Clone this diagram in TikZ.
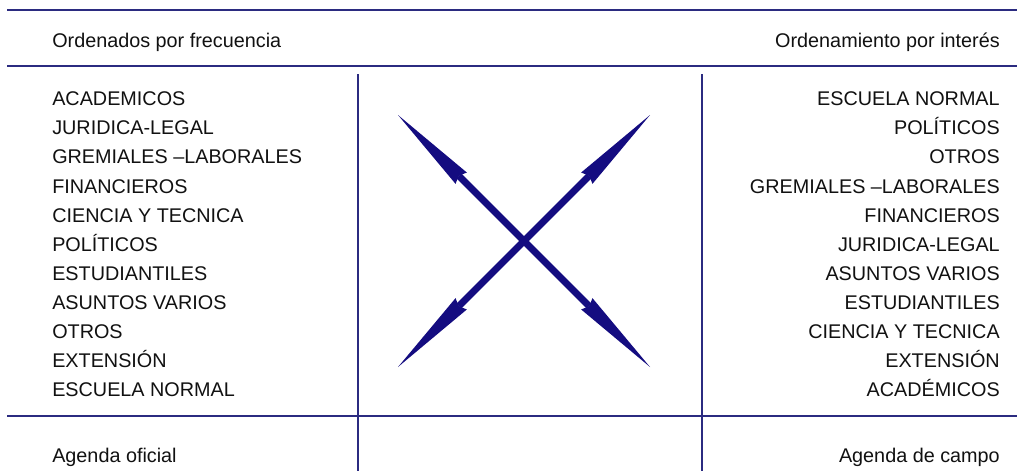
\documentclass[tikz,border=0pt]{standalone}
\usepackage{fontspec}
\setmainfont{Liberation Sans}
\usetikzlibrary{arrows.meta}
\definecolor{ink}{HTML}{111111}
\definecolor{rule}{HTML}{2B2B80}
\definecolor{cross}{HTML}{140C80}
\newcommand{\RowY}{105.7}
\newcommand{\RowH}{29.1}
\newcommand{\LeftX}{52}
\newcommand{\RightX}{1000}

\begin{document}
\begin{tikzpicture}[x=0.75pt, y=-0.75pt, ink,
  font=\fontsize{14.85}{17}\selectfont,
  item/.style={inner sep=0pt},
  ruleline/.style={rule, line width=1.1pt},
  colline/.style={rule, line width=0.8pt},
  crossarrow/.style={cross, line width=5.2pt,
    {Stealth[length=67pt, width=12pt, inset=2.5pt, line width=0pt]}-{Stealth[length=67pt, width=12pt, inset=2.5pt, line width=0pt]}}]

\useasboundingbox (0,0) rectangle (1017,471);

% --- Rules: header band, footer band and the two column lines --------------------
\draw[ruleline] (7,10) -- (1017,10);
\draw[ruleline] (7,66) -- (1017,66);
\draw[ruleline] (7,416) -- (1017,416);
\draw[colline] (358,74) -- (358,471);
\draw[colline] (702,74) -- (702,471);

% --- Headers and footers ---------------------------------------------------------
\node[item, anchor=base west] (hdrL) at (\LeftX, 47) {Ordenados por frecuencia};
\node[item, anchor=base east] (hdrR) at (\RightX, 47) {Ordenamiento por interés};
\node[item, anchor=base west] (ftL) at (\LeftX, 462) {Agenda oficial};
\node[item, anchor=base east] (ftR) at (\RightX, 462) {Agenda de campo};

% --- Left list: by frequency -------------------------------------------------------
\foreach \i/\name in {0/ACADEMICOS, 1/JURIDICA-LEGAL, 2/{GREMIALES –LABORALES}, 3/FINANCIEROS, 4/CIENCIA Y TECNICA, 5/POLÍTICOS, 6/ESTUDIANTILES, 7/ASUNTOS VARIOS, 8/OTROS, 9/EXTENSIÓN, 10/ESCUELA NORMAL} {
  \node[item, anchor=base west] (l\i) at (\LeftX, \RowY + \i*\RowH) {\name};
}

% --- Right list: by interest -------------------------------------------------------
\foreach \i/\name in {0/ESCUELA NORMAL, 1/POLÍTICOS, 2/OTROS, 3/{GREMIALES –LABORALES}, 4/FINANCIEROS, 5/JURIDICA-LEGAL, 6/ASUNTOS VARIOS, 7/ESTUDIANTILES, 8/CIENCIA Y TECNICA, 9/EXTENSIÓN, 10/ACADÉMICOS} {
  \node[item, anchor=base east] (r\i) at (\RightX, \RowY + \i*\RowH) {\name};
}

% --- The crossing arrows -----------------------------------------------------------
\coordinate (nw) at (398,115);
\coordinate (se) at (650,367);
\coordinate (ne) at (650,115);
\coordinate (sw) at (398,367);
\draw[crossarrow] (nw) -- (se);
\draw[crossarrow] (ne) -- (sw);

\end{tikzpicture}
\end{document}
